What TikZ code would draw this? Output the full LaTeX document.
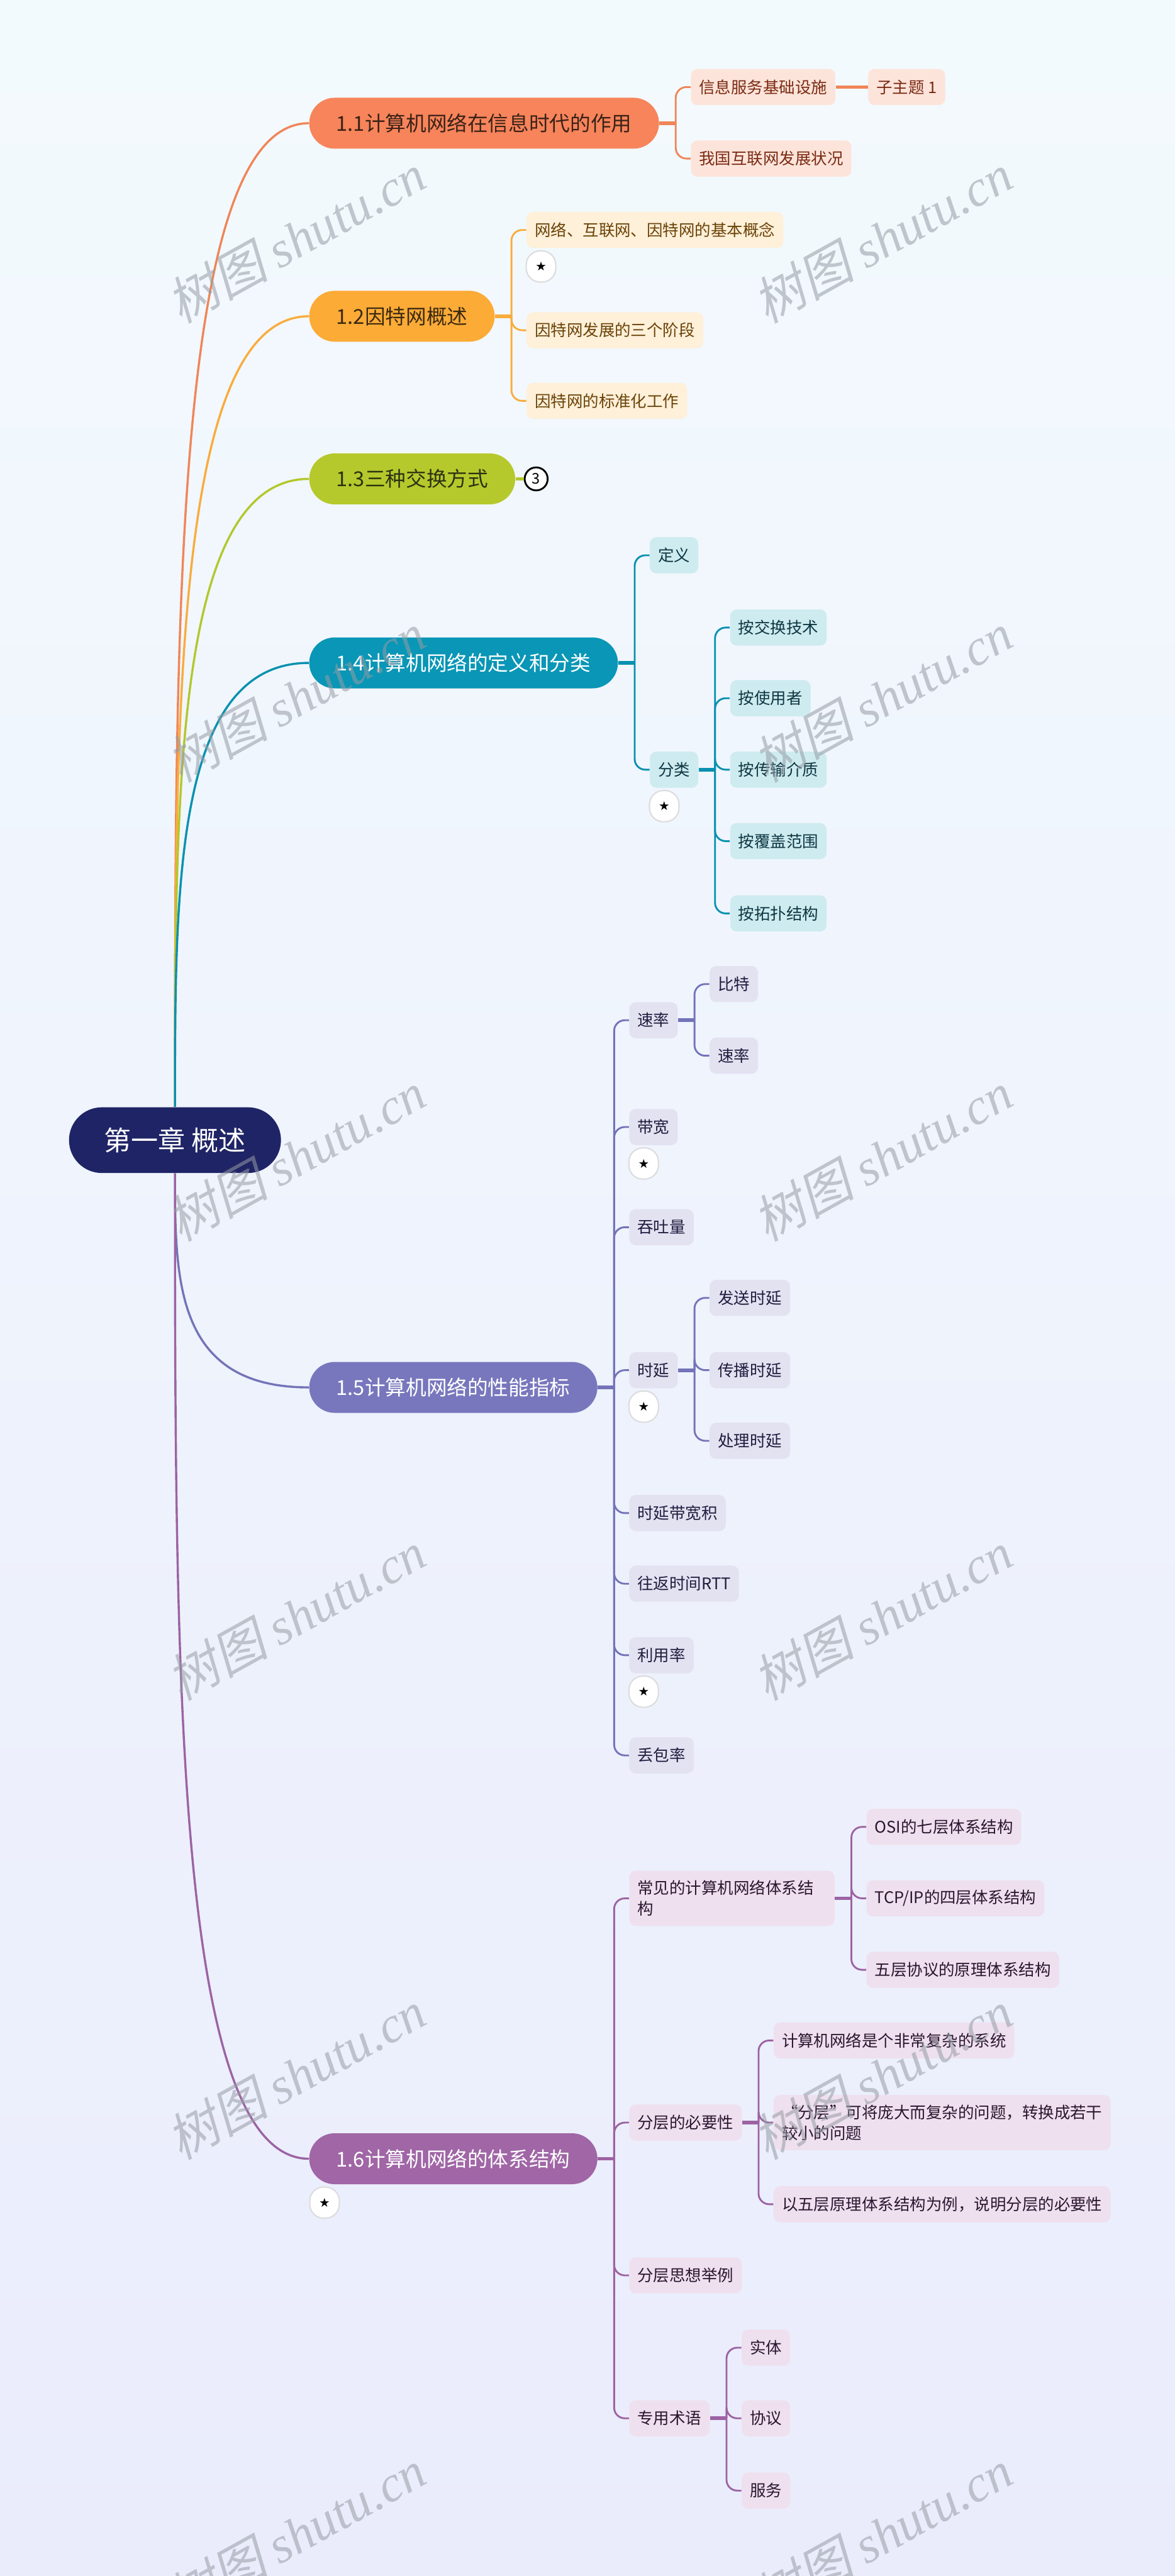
\documentclass[tikz,border=0pt]{standalone}
\usepackage{fontspec}
\usepackage{xcolor}
\usepackage{tikz}
\usetikzlibrary{positioning, calc}
\setmainfont{Noto Sans CJK SC}
\newfontfamily\symfont{DejaVu Sans}
\newfontfamily\wmcjk[FakeSlant=0.22]{Noto Sans CJK SC}
\newfontfamily\wmlatin{Liberation Serif}
\definecolor{bgtop}{RGB}{243, 250, 253}
\definecolor{bgbot}{RGB}{234, 236, 252}
\definecolor{rootblue}{RGB}{31, 36, 102}
\definecolor{wmgray}{RGB}{150, 156, 164}
\definecolor{badgegray}{RGB}{220, 220, 222}
% branch colours
\definecolor{c1fill}{RGB}{247, 132, 90}
\definecolor{c1line}{RGB}{240, 133, 88}
\definecolor{c1text}{RGB}{58, 34, 24}
\definecolor{c1light}{RGB}{253, 228, 218}
\definecolor{c1dark}{RGB}{122, 43, 20}
\definecolor{c2fill}{RGB}{252, 171, 54}
\definecolor{c2line}{RGB}{249, 172, 61}
\definecolor{c2text}{RGB}{59, 42, 18}
\definecolor{c2light}{RGB}{254, 240, 217}
\definecolor{c2dark}{RGB}{107, 67, 8}
\definecolor{c3fill}{RGB}{182, 201, 44}
\definecolor{c3line}{RGB}{179, 199, 45}
\definecolor{c3text}{RGB}{44, 51, 18}
\definecolor{c4fill}{RGB}{10, 150, 182}
\definecolor{c4line}{RGB}{9, 145, 176}
\definecolor{c4light}{RGB}{206, 235, 240}
\definecolor{c4dark}{RGB}{14, 55, 66}
\definecolor{c5fill}{RGB}{120, 119, 189}
\definecolor{c5line}{RGB}{116, 115, 184}
\definecolor{c5light}{RGB}{227, 226, 241}
\definecolor{c5dark}{RGB}{30, 29, 63}
\definecolor{c6fill}{RGB}{160, 102, 166}
\definecolor{c6line}{RGB}{156, 99, 163}
\definecolor{c6light}{RGB}{238, 224, 238}
\definecolor{c6dark}{RGB}{43, 22, 48}

\tikzset{
  topic/.style={anchor=west, rounded corners=15.5pt, minimum height=31pt,
                inner xsep=16.5pt, inner ysep=0pt, font=\fontsize{12.5}{15}\selectfont},
  sub/.style={anchor=west, rounded corners=4pt, minimum height=22pt,
              inner xsep=5pt, inner ysep=3pt, align=left,
              font=\fontsize{9.75}{12.5}\selectfont},
  stub/.style={line width=2.2pt},
  twig/.style={line width=1.1pt, rounded corners=6.5pt},
  limb/.style={line width=1.3pt},
  starbadge/.style={draw=badgegray, fill=white, line width=0.8pt, rounded corners=8.5pt,
                    minimum width=18pt, minimum height=19pt, inner sep=0pt,
                    font=\symfont\fontsize{7.5}{8}\selectfont},
  wmark/.style={rotate=29, text=wmgray, text opacity=0.55, inner sep=0pt,
                font=\fontsize{31}{34}\selectfont}
}

\begin{document}
\begin{tikzpicture}[x=1pt, y=-1pt]
  \useasboundingbox (0,0) rectangle (715,1568);
  \shade[top color=bgtop, bottom color=bgbot] (0,0) rectangle (715,1568);

  % central topic
  \node[fill=rootblue, text=white, rounded corners=20pt, minimum width=129pt,
        minimum height=40pt, font=\fontsize{16.5}{20}\selectfont] (root) at (106.5,694) {第一章 概述};

  % main topics
  \node[topic, fill=c1fill, text=c1text] (n11) at (188,75) {1.1计算机网络在信息时代的作用};
  \node[topic, fill=c2fill, text=c2text] (n12) at (188,192.5) {1.2因特网概述};
  \node[topic, fill=c3fill, text=c3text] (n13) at (188,291.5) {1.3三种交换方式};
  \node[topic, fill=c4fill, text=white] (n14) at (188,403.5) {1.4计算机网络的定义和分类};
  \node[topic, fill=c5fill, text=white] (n15) at (188,844.5) {1.5计算机网络的性能指标};
  \node[topic, fill=c6fill, text=white] (n16) at (188,1314) {1.6计算机网络的体系结构};

  \draw[limb, c1line] (root.north) .. controls ($(root.north)!0.5!(root.north |- n11.west)$) and (root.north |- n11.west) .. (n11.west);
  \draw[limb, c2line] (root.north) .. controls ($(root.north)!0.5!(root.north |- n12.west)$) and (root.north |- n12.west) .. (n12.west);
  \draw[limb, c3line] (root.north) .. controls ($(root.north)!0.5!(root.north |- n13.west)$) and (root.north |- n13.west) .. (n13.west);
  \draw[limb, c4line] (root.north) .. controls ($(root.north)!0.5!(root.north |- n14.west)$) and (root.north |- n14.west) .. (n14.west);
  \draw[limb, c5line] (root.south) .. controls ($(root.south)!0.5!(root.south |- n15.west)$) and (root.south |- n15.west) .. (n15.west);
  \draw[limb, c6line] (root.south) .. controls ($(root.south)!0.5!(root.south |- n16.west)$) and (root.south |- n16.west) .. (n16.west);

  % 1.1
  \node[sub, fill=c1light, text=c1dark] (s11a) at ($(n11.east)+(19,-22)$) {信息服务基础设施};
  \node[sub, fill=c1light, text=c1dark] (s11b) at ($(n11.east)+(19,21.5)$) {我国互联网发展状况};
  \node[sub, fill=c1light, text=c1dark, right=19.5pt of s11a] (s11a1) {子主题 1};
  \draw[stub, c1line] (n11.east) -- ++(10,0) coordinate (b11);
  \foreach \c in {s11a, s11b} \draw[twig, c1line] (b11) |- (\c.west);
  \draw[stub, c1line] (s11a.east) -- (s11a1.west);

  % 1.2
  \node[sub, fill=c2light, text=c2dark] (s12a) at ($(n12.east)+(19,-52.5)$) {网络、互联网、因特网的基本概念};
  \node[sub, fill=c2light, text=c2dark] (s12b) at ($(n12.east)+(19,8.5)$) {因特网发展的三个阶段};
  \node[sub, fill=c2light, text=c2dark] (s12c) at ($(n12.east)+(19,51.5)$) {因特网的标准化工作};
  \node[starbadge] (k12a) at ($(s12a.south west)+(9,11)$) {★};
  \draw[stub, c2line] (n12.east) -- ++(10,0) coordinate (b12);
  \foreach \c in {s12a, s12b, s12c} \draw[twig, c2line] (b12) |- (\c.west);

  % 1.3
  \node[circle, draw=black, fill=white, line width=1.1pt, minimum size=14pt, inner sep=0pt,
        font=\fontsize{9}{10}\selectfont, right=5pt of n13] (cnt13) {3};
  \draw[stub, c3line] (n13.east) -- (cnt13.west);

  % 1.4
  \node[sub, fill=c4light, text=c4dark] (s14a) at ($(n14.east)+(19,-65.5)$) {定义};
  \node[sub, fill=c4light, text=c4dark] (s14b) at ($(n14.east)+(19,65)$) {分类};
  \node[starbadge] (k14b) at ($(s14b.south west)+(9,11)$) {★};
  \draw[stub, c4line] (n14.east) -- ++(10,0) coordinate (b14);
  \foreach \c in {s14a, s14b} \draw[twig, c4line] (b14) |- (\c.west);
  \node[sub, fill=c4light, text=c4dark] (s14b1) at ($(s14b.east)+(19,-86.5)$) {按交换技术};
  \node[sub, fill=c4light, text=c4dark] (s14b2) at ($(s14b.east)+(19,-43.5)$) {按使用者};
  \node[sub, fill=c4light, text=c4dark] (s14b3) at ($(s14b.east)+(19,0)$) {按传输介质};
  \node[sub, fill=c4light, text=c4dark] (s14b4) at ($(s14b.east)+(19,43.5)$) {按覆盖范围};
  \node[sub, fill=c4light, text=c4dark] (s14b5) at ($(s14b.east)+(19,87.5)$) {按拓扑结构};
  \draw[stub, c4line] (s14b.east) -- ++(10,0) coordinate (b14b);
  \foreach \c in {s14b1, s14b2, s14b3, s14b4, s14b5} \draw[twig, c4line] (b14b) |- (\c.west);

  % 1.5
  \node[sub, fill=c5light, text=c5dark] (s15a) at ($(n15.east)+(19,-223.5)$) {速率};
  \node[sub, fill=c5light, text=c5dark] (s15b) at ($(n15.east)+(19,-158.5)$) {带宽};
  \node[sub, fill=c5light, text=c5dark] (s15c) at ($(n15.east)+(19,-97.5)$) {吞吐量};
  \node[sub, fill=c5light, text=c5dark] (s15d) at ($(n15.east)+(19,-10.5)$) {时延};
  \node[sub, fill=c5light, text=c5dark] (s15e) at ($(n15.east)+(19,76.5)$) {时延带宽积};
  \node[sub, fill=c5light, text=c5dark] (s15f) at ($(n15.east)+(19,119.5)$) {往返时间RTT};
  \node[sub, fill=c5light, text=c5dark] (s15g) at ($(n15.east)+(19,163)$) {利用率};
  \node[sub, fill=c5light, text=c5dark] (s15h) at ($(n15.east)+(19,224)$) {丢包率};
  \node[starbadge] (k15b) at ($(s15b.south west)+(9,11)$) {★};
  \node[starbadge] (k15d) at ($(s15d.south west)+(9,11)$) {★};
  \node[starbadge] (k15g) at ($(s15g.south west)+(9,11)$) {★};
  \draw[stub, c5line] (n15.east) -- ++(10,0) coordinate (b15);
  \foreach \c in {s15a, s15b, s15c, s15d, s15e, s15f, s15g, s15h} \draw[twig, c5line] (b15) |- (\c.west);
  \node[sub, fill=c5light, text=c5dark] (s15a1) at ($(s15a.east)+(19,-22)$) {比特};
  \node[sub, fill=c5light, text=c5dark] (s15a2) at ($(s15a.east)+(19,21.6)$) {速率};
  \draw[stub, c5line] (s15a.east) -- ++(10,0) coordinate (b15a);
  \foreach \c in {s15a1, s15a2} \draw[twig, c5line] (b15a) |- (\c.west);
  \node[sub, fill=c5light, text=c5dark] (s15d1) at ($(s15d.east)+(19,-44)$) {发送时延};
  \node[sub, fill=c5light, text=c5dark] (s15d2) at ($(s15d.east)+(19,0)$) {传播时延};
  \node[sub, fill=c5light, text=c5dark] (s15d3) at ($(s15d.east)+(19,43)$) {处理时延};
  \draw[stub, c5line] (s15d.east) -- ++(10,0) coordinate (b15d);
  \foreach \c in {s15d1, s15d2, s15d3} \draw[twig, c5line] (b15d) |- (\c.west);

  % 1.6
  \node[starbadge] (k16) at ($(n16.south west)+(9.5,11)$) {★};
  \node[sub, fill=c6light, text=c6dark, inner ysep=6pt, text width=115pt] (s16a) at ($(n16.east)+(19,-158.5)$) {常见的计算机网络体系结\\构};
  \node[sub, fill=c6light, text=c6dark] (s16b) at ($(n16.east)+(19,-22)$) {分层的必要性};
  \node[sub, fill=c6light, text=c6dark] (s16c) at ($(n16.east)+(19,71)$) {分层思想举例};
  \node[sub, fill=c6light, text=c6dark] (s16d) at ($(n16.east)+(19,158)$) {专用术语};
  \draw[stub, c6line] (n16.east) -- ++(10,0) coordinate (b16);
  \foreach \c in {s16a, s16b, s16c, s16d} \draw[twig, c6line] (b16) |- (\c.west);
  \node[sub, fill=c6light, text=c6dark] (s16a1) at ($(s16a.east)+(19,-43.5)$) {OSI的七层体系结构};
  \node[sub, fill=c6light, text=c6dark] (s16a2) at ($(s16a.east)+(19,0)$) {TCP/IP的四层体系结构};
  \node[sub, fill=c6light, text=c6dark] (s16a3) at ($(s16a.east)+(19,43.5)$) {五层协议的原理体系结构};
  \draw[stub, c6line] (s16a.east) -- ++(10,0) coordinate (b16a);
  \foreach \c in {s16a1, s16a2, s16a3} \draw[twig, c6line] (b16a) |- (\c.west);
  \node[sub, fill=c6light, text=c6dark] (s16b1) at ($(s16b.east)+(19,-50)$) {计算机网络是个非常复杂的系统};
  \node[sub, fill=c6light, text=c6dark, inner ysep=6pt] (s16b2) at ($(s16b.east)+(19,0)$) {“分层”可将庞大而复杂的问题，转换成若干\\较小的问题};
  \node[sub, fill=c6light, text=c6dark] (s16b3) at ($(s16b.east)+(19,49.7)$) {以五层原理体系结构为例，说明分层的必要性};
  \draw[stub, c6line] (s16b.east) -- ++(10,0) coordinate (b16b);
  \foreach \c in {s16b1, s16b2, s16b3} \draw[twig, c6line] (b16b) |- (\c.west);
  \node[sub, fill=c6light, text=c6dark] (s16d1) at ($(s16d.east)+(19,-43)$) {实体};
  \node[sub, fill=c6light, text=c6dark] (s16d2) at ($(s16d.east)+(19,0)$) {协议};
  \node[sub, fill=c6light, text=c6dark] (s16d3) at ($(s16d.east)+(19,44)$) {服务};
  \draw[stub, c6line] (s16d.east) -- ++(10,0) coordinate (b16d);
  \foreach \c in {s16d1, s16d2, s16d3} \draw[twig, c6line] (b16d) |- (\c.west);

  % watermark
  \foreach \k in {0,...,5} {
    \node[wmark] (wl\k) at (180,{145+279.5*\k}) {{\wmcjk 树图} {\wmlatin\itshape shutu.cn}};
    \node[wmark] (wr\k) at (537,{145+279.5*\k}) {{\wmcjk 树图} {\wmlatin\itshape shutu.cn}};
  }
\end{tikzpicture}
\end{document}
